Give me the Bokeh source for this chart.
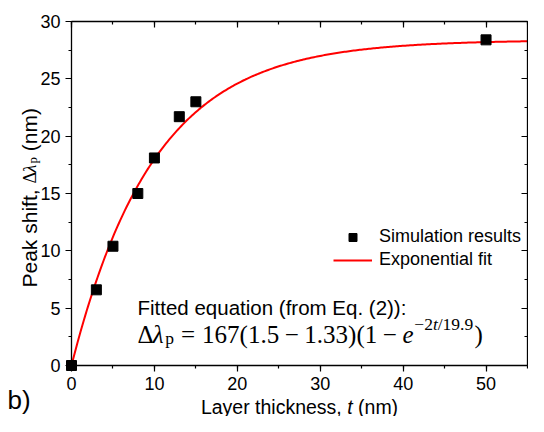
import numpy as np
from bokeh.plotting import figure
from bokeh.models import (Label, LinearAxis, SingleIntervalTicker, Range1d,
                          Legend, LegendItem, CustomJSTickFormatter)
from bokeh.embed import file_html
from bokeh.resources import INLINE

# ---------------- data ----------------
thickness_nm = [0, 3, 5, 8, 10, 13, 15, 50]
peak_shift_nm = [0.0, 6.6, 10.4, 15.0, 18.1, 21.7, 23.0, 28.4]

# exponential fit parameters (as written in the chart)
fit_prefactor = 167.0
fit_n_layer = 1.5
fit_n_env = 1.33
fit_decay_nm = 19.9

x_lim = [0, 55]
y_lim = [0, 30]
x_tick_step = 10
y_tick_step = 5

series_labels = ["Simulation results", "Exponential fit"]

# ---------------- geometry ----------------
W, H = 528, 416
BL, BR, BT, BB = 71, 527, 21, 365   # plot box edges in figure pixels
ppx = (BR - BL) / (x_lim[1] - x_lim[0])
ppy = (BB - BT) / (y_lim[1] - y_lim[0])
x_start = x_lim[0] - BL / ppx
x_end = x_lim[0] + (W - BL) / ppx
y_end = y_lim[1] + BT / ppy
y_start = y_lim[0] - (H - BB) / ppy

p = figure(width=W, height=H,
           x_range=Range1d(x_start, x_end), y_range=Range1d(y_start, y_end),
           x_axis_type=None, y_axis_type=None,
           output_backend="svg", toolbar_location=None,
           min_border=0)
p.outline_line_color = None
p.background_fill_color = "white"
p.border_fill_color = "white"

SANS = "Liberation Sans"
SERIF = "Liberation Serif"


def make_axis(step, loc, bounds, labelled, outward, standoff=5):
    ax = LinearAxis(ticker=SingleIntervalTicker(interval=step, num_minor_ticks=2),
                    fixed_location=loc, bounds=tuple(bounds))
    ax.axis_line_color = "black"
    ax.axis_line_width = 1.3
    ax.major_tick_line_color = "black"
    ax.minor_tick_line_color = "black"
    ax.major_tick_line_width = 1.2
    ax.minor_tick_line_width = 1.2
    if outward:
        ax.major_tick_out, ax.major_tick_in = 6, 0
        ax.minor_tick_out, ax.minor_tick_in = 3, 0
    else:
        ax.major_tick_out, ax.major_tick_in = 0, 6
        ax.minor_tick_out, ax.minor_tick_in = 0, 3
    if labelled:
        ax.major_label_text_font = SANS
        ax.major_label_text_font_size = "18px"
        ax.major_label_text_color = "black"
        ax.major_label_standoff = standoff
    else:
        ax.formatter = CustomJSTickFormatter(code="return ''")
        ax.major_label_text_font_size = "1px"
        ax.major_label_standoff = 0
    return ax


p.add_layout(make_axis(x_tick_step, y_lim[0], x_lim, True, True, 5), "below")
p.add_layout(make_axis(y_tick_step, x_lim[0], y_lim, True, True, 5), "left")
p.add_layout(make_axis(x_tick_step, y_lim[1], x_lim, False, False), "above")
p.add_layout(make_axis(y_tick_step, x_lim[1], y_lim, False, False), "right")

# ---------------- glyphs ----------------
t_fit = np.linspace(x_lim[0], x_lim[1], 300)
y_fit = fit_prefactor * (fit_n_layer - fit_n_env) * (1 - np.exp(-2 * t_fit / fit_decay_nm))
fit_r = p.line(t_fit, y_fit, line_color="#ff0000", line_width=2)
pts_r = p.scatter(thickness_nm, peak_shift_nm, marker="square", size=10,
                  fill_color="black", line_color="black")

legend = Legend(items=[LegendItem(label=series_labels[0], renderers=[pts_r]),
                       LegendItem(label=series_labels[1], renderers=[fit_r])],
                location=(333, H - 270))
legend.border_line_color = None
legend.background_fill_alpha = 0
legend.padding = 0
legend.margin = 0
legend.spacing = 2
legend.glyph_width = 39
legend.glyph_height = 20
legend.label_height = 20
legend.label_standoff = 7
legend.label_text_font = SANS
legend.label_text_font_size = "18px"
legend.label_text_color = "black"
p.add_layout(legend)


# ---------------- texts ----------------
def xd(fx):
    return x_start + fx / ppx


def yd(fy):
    return y_end - fy / ppy


def put(text, fx, fy, size, font=SANS, style="normal", angle=0.0,
        align="left", baseline="alphabetic"):
    p.add_layout(Label(x=xd(fx), y=yd(fy), text=text, text_font=font,
                       text_font_size=f"{size}px", text_font_style=style,
                       angle=angle, text_align=align, text_baseline=baseline,
                       text_color="black"))


SANS_W = {'L': .556, 'a': .556, 'y': .5, 'e': .556, 'r': .333, ' ': .278, 't': .278,
          'h': .556, 'i': .222, 'c': .5, 'k': .5, 'n': .556, 's': .5, ',': .278,
          '(': .333, ')': .333, 'm': .833, 'P': .667, 'f': .278}
SERIF_W = {'Δ': .612, 'λ': .5, 'p': .5, '=': .564, '(': .333, ')': .333, '.': .25,
           '−': .564, 'e': .444, 't': .278, '/': .278, ' ': .25}


def width(text, size, table):
    return sum(table.get(c, .5) for c in text) * size


# x-axis title: "Layer thickness, t (nm)"
xs = 19.5
xparts = [("Layer thickness,", "normal", " "), ("t", "italic", " "), ("(nm)", "normal", "")]
tot = sum(width(s + g, xs, SANS_W) for s, _, g in xparts)
cx = (BL + BR) / 2 - tot / 2
for s, st, g in xparts:
    put(s, cx, 406, xs, style=st)
    cx += width(s + g, xs, SANS_W)

# y-axis title (rotated): "Peak shift, Δλp (nm)"
ys_sans, ys_serif = 21, 18
by = 287
bx = 29
put("Peak shift,", bx, by, ys_sans, angle=np.pi / 2)
by -= width("Peak shift, ", ys_sans, SANS_W)
put("Δ", bx, by, ys_serif, font=SERIF, angle=np.pi / 2)
by -= width("Δ", ys_serif, SERIF_W)
put("λ", bx, by, ys_serif, font=SERIF, style="italic", angle=np.pi / 2)
by -= width("λ", ys_serif, SERIF_W)
put("p", bx + 3, by, 13, font=SERIF, angle=np.pi / 2)
by -= width("p", 13, SERIF_W) + width(" ", ys_sans, SANS_W)
put("(nm)", bx, by, ys_sans, angle=np.pi / 2)

# annotation lines
put("Fitted equation (from Eq. (2)):", 137, 307, 20.5)

S = 25
ex, ey = 137, 334
eq = [("Δ", "normal", 1.0, 0.0, 0.0),
      ("λ", "italic", 1.0, 0.0, 0.0),
      ("p", "normal", 0.7, 0.15, 0.0),
      ("=", "normal", 1.0, 0.0, .278),
      ("167(1.5", "normal", 1.0, 0.0, .278),
      ("−", "normal", 1.0, 0.0, .222),
      ("1.33)(1", "normal", 1.0, 0.0, .222),
      ("−", "normal", 1.0, 0.0, .222),
      ("e", "italic", 1.0, 0.0, .222),
      ("−2", "normal", 0.7, -0.42, 0.03),
      ("t", "italic", 0.7, -0.42, 0.0),
      ("/19.9", "normal", 0.7, -0.42, 0.0),
      (")", "normal", 1.0, 0.0, .05)]
for txt, st, sc, dy, gap in eq:
    ex += gap * S
    put(txt, ex, ey + dy * S, round(S * sc, 1), font=SERIF, style=st)
    ex += width(txt, S * sc, SERIF_W)

# panel letter
put("b)", 7, 399, 26)

open("out.html", "w").write(file_html(p, INLINE))
